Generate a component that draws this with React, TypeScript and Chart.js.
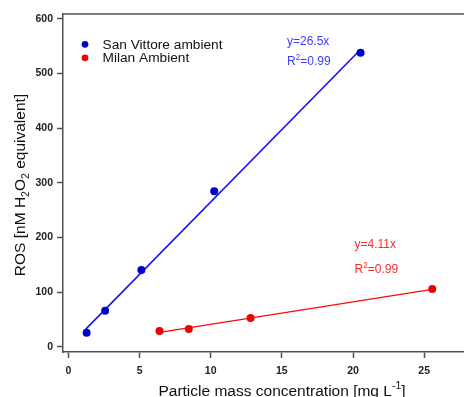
import React, { useEffect, useRef } from 'react';
import { Chart, registerables } from 'chart.js';

Chart.register(...registerables);

// ---- Data ----
const sanVittoreX = [1.28, 2.58, 5.13, 10.25, 20.53];
const sanVittoreY = [25.6, 66, 140.5, 284.5, 538];
const milanX = [6.4, 8.46, 12.8, 25.57];
const milanY = [29, 32.4, 52.6, 106];
const sanVittoreSlope = 26.5;
const milanSlope = 4.11;
const sanVittoreFitX = [1.22, 20.53];
const milanFitX = [6.3, 25.57];
const xTicks = [0, 5, 10, 15, 20, 25];
const yTicks = [0, 100, 200, 300, 400, 500, 600];
const seriesLabels = ['San Vittore ambient', 'Milan Ambient'];
const fitLabels = ['y=26.5x', 'y=4.11x'];
const r2Labels = ['0.99', '0.99'];
const xRange = [-0.38, 27.8];
const yRange = [-9.5, 609];

// ---- Styles ----
const FONT = '"Liberation Sans", Arial, Helvetica, sans-serif';
const AXIS_COLOR = '#505050';
const BLUE_PT = 'rgb(0,0,205)';
const BLUE_LINE = 'rgb(20,20,245)';
const BLUE_TXT = 'rgb(60,60,255)';
const RED_PT = 'rgb(240,0,0)';
const RED_LINE = 'rgb(255,10,10)';
const RED_TXT = 'rgb(255,40,40)';

type Seg = { t: string; s?: 'sub' | 'sup' };

function richWidth(ctx: CanvasRenderingContext2D, segs: Seg[], size: number) {
  let w = 0;
  for (const sg of segs) {
    ctx.font = `${sg.s ? size * 0.68 : size}px ${FONT}`;
    w += ctx.measureText(sg.t).width;
  }
  return w;
}

function drawRich(
  ctx: CanvasRenderingContext2D,
  segs: Seg[],
  x: number,
  baseline: number,
  size: number,
  color: string,
  align: 'left' | 'center'
) {
  const w = richWidth(ctx, segs, size);
  let cx = align === 'center' ? x - w / 2 : x;
  ctx.fillStyle = color;
  ctx.textBaseline = 'alphabetic';
  ctx.textAlign = 'left';
  for (const sg of segs) {
    const sz = sg.s ? size * 0.68 : size;
    ctx.font = `${sz}px ${FONT}`;
    let dy = 0;
    if (sg.s === 'sub') dy = size * 0.28;
    if (sg.s === 'sup') dy = -size * 0.42;
    ctx.fillText(sg.t, cx, baseline + dy);
    cx += ctx.measureText(sg.t).width;
  }
}

const yTitle: Seg[] = [
  { t: 'ROS [nM H' },
  { t: '2', s: 'sub' },
  { t: 'O' },
  { t: '2', s: 'sub' },
  { t: ' equivalent]' },
];
const xTitle: Seg[] = [
  { t: 'Particle mass concentration [mg L' },
  { t: '-1', s: 'sup' },
  { t: ']' },
];

const decorPlugin = {
  id: 'decor',
  afterDraw(chart: any) {
    const { ctx, chartArea } = chart;
    ctx.save();
    // top frame line
    ctx.strokeStyle = AXIS_COLOR;
    ctx.lineWidth = 1.5;
    ctx.beginPath();
    ctx.moveTo(chartArea.left, chartArea.top);
    ctx.lineTo(chartArea.right, chartArea.top);
    ctx.stroke();

    // axis titles
    drawRich(ctx, xTitle, 282, 396, 15.5, '#111', 'center');
    ctx.save();
    ctx.translate(24.5, 185);
    ctx.rotate(-Math.PI / 2);
    drawRich(ctx, yTitle, 0, 0, 15.5, '#111', 'center');
    ctx.restore();

    // legend
    const legendColors = [BLUE_PT, RED_PT];
    seriesLabels.forEach((lab, i) => {
      const cy = 44.3 + i * 13.5;
      ctx.fillStyle = legendColors[i];
      ctx.beginPath();
      ctx.arc(85, cy, 3.4, 0, Math.PI * 2);
      ctx.fill();
      ctx.font = `13.7px ${FONT}`;
      ctx.fillStyle = '#111';
      ctx.textAlign = 'left';
      ctx.textBaseline = 'alphabetic';
      ctx.fillText(lab, 102.5, cy + 4.3);
    });

    // fit annotations
    const ann = [
      { x: 287, y1: 44.5, y2: 65, c: BLUE_TXT },
      { x: 354.5, y1: 247.5, y2: 273, c: RED_TXT },
    ];
    ann.forEach((a, i) => {
      drawRich(ctx, [{ t: fitLabels[i] }], a.x, a.y1, 12, a.c, 'left');
      drawRich(ctx, [{ t: 'R' }, { t: '2', s: 'sup' }, { t: '=' + r2Labels[i] }], a.x, a.y2, 12, a.c, 'left');
    });
    ctx.restore();
  },
};

export default function App() {
  const ref = useRef<HTMLCanvasElement | null>(null);

  useEffect(() => {
    if (!ref.current) return;
    const fit = (slope: number, xs: number[]) => xs.map((x) => ({ x, y: slope * x }));
    const chart = new Chart(ref.current, {
      type: 'scatter',
      data: {
        datasets: [
          {
            label: seriesLabels[0],
            data: sanVittoreX.map((x, i) => ({ x, y: sanVittoreY[i] })),
            backgroundColor: BLUE_PT,
            borderColor: BLUE_PT,
            pointRadius: 4,
            borderWidth: 0,
            order: 0,
          },
          {
            label: seriesLabels[1],
            data: milanX.map((x, i) => ({ x, y: milanY[i] })),
            backgroundColor: RED_PT,
            borderColor: RED_PT,
            pointRadius: 4,
            borderWidth: 0,
            order: 0,
          },
          {
            label: 'San Vittore fit',
            data: fit(sanVittoreSlope, sanVittoreFitX),
            showLine: true,
            borderColor: BLUE_LINE,
            borderWidth: 1.6,
            pointRadius: 0,
            order: 1,
          },
          {
            label: 'Milan fit',
            data: fit(milanSlope, milanFitX),
            showLine: true,
            borderColor: RED_LINE,
            borderWidth: 1.3,
            pointRadius: 0,
            order: 1,
          },
        ] as any,
      },
      options: {
        responsive: false,
        animation: false,
        events: [],
        layout: { padding: { top: 14, right: 0, left: 0, bottom: 0 } },
        plugins: {
          legend: { display: false },
          tooltip: { enabled: false },
          title: { display: false },
        },
        scales: {
          x: {
            type: 'linear',
            min: xRange[0],
            max: xRange[1],
            afterBuildTicks: (s: any) => {
              s.ticks = xTicks.map((v) => ({ value: v }));
            },
            afterFit: (s: any) => {
              s.height = 45;
            },
            grid: {
              drawOnChartArea: false,
              drawTicks: true,
              tickLength: 6,
              tickColor: AXIS_COLOR,
              tickWidth: 1.5,
            },
            border: { display: true, color: AXIS_COLOR, width: 1.5 },
            ticks: {
              padding: 7,
              color: '#222',
              maxRotation: 0,
              autoSkip: false,
              font: { family: FONT, size: 10.5, weight: 'bold' },
            },
          },
          y: {
            type: 'linear',
            min: yRange[0],
            max: yRange[1],
            afterBuildTicks: (s: any) => {
              s.ticks = yTicks.map((v) => ({ value: v }));
            },
            afterFit: (s: any) => {
              s.width = 63;
            },
            grid: {
              drawOnChartArea: false,
              drawTicks: true,
              tickLength: 6,
              tickColor: AXIS_COLOR,
              tickWidth: 1.5,
            },
            border: { display: true, color: AXIS_COLOR, width: 1.5 },
            ticks: {
              padding: 4,
              color: '#222',
              autoSkip: false,
              font: { family: FONT, size: 10.5, weight: 'bold' },
            },
          },
        },
      } as any,
      plugins: [decorPlugin],
    });
    return () => chart.destroy();
  }, []);

  return (
    <div
      style={{
        position: 'absolute',
        left: 0,
        top: 0,
        width: 464,
        height: 397,
        overflow: 'hidden',
        background: '#fff',
      }}
    >
      <canvas ref={ref} width={468} height={397} style={{ display: 'block' }} />
    </div>
  );
}
